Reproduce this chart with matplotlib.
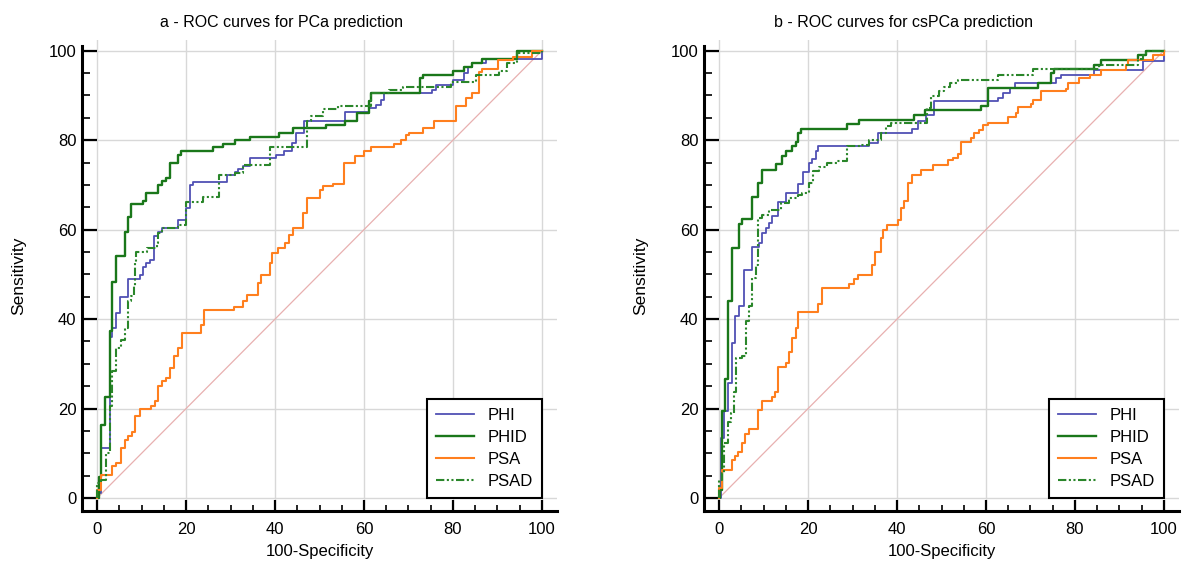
import matplotlib
matplotlib.use('Agg')
import matplotlib.pyplot as plt
from matplotlib.ticker import MultipleLocator

plt.rcParams['font.family'] = ['Liberation Sans', 'DejaVu Sans']

# ---- panel a: PCa prediction (100-specificity, sensitivity at each step) ----
a_phid_x = [0, 0.4, 0.9, 1.7, 2.8, 3.4, 4.3, 6.2, 6.9, 7.7, 10.3, 11.1, 13.6, 14.6, 15.5,
            16.3, 18.1, 18.9, 26.0, 28.4, 31.0, 34.4, 41.0, 44.0, 51.5, 55.8, 58.4,
            61.2, 61.6, 72.5, 73.2, 80.0, 82.5, 84.4, 86.6, 94.5, 100]
a_phid_y = [0, 4.8, 16.4, 22.5, 37.3, 48.3, 54.2, 59.5, 62.8, 65.7, 66.3, 68.2, 70.0, 70.8,
            71.5, 74.9, 76.8, 77.5, 78.5, 79.2, 80.1, 80.8, 81.6, 82.7, 83.5, 84.4, 86.1,
            88.8, 90.5, 93.9, 94.6, 95.4, 96.3, 97.2, 98.1, 99.9, 100]

a_phi_x = [0, 0.4, 0.9, 2.8, 3.4, 4.3, 5.2, 6.9, 9.6, 10.3, 11.1, 12.0, 12.8, 13.8, 14.6,
           18.1, 20.0, 20.8, 21.5, 29.1, 31.0, 31.7, 32.9, 34.4, 40.3, 42.0, 43.9, 44.7,
           46.5, 55.8, 61.2, 62.7, 63.8, 64.6, 75.4, 76.2, 80.0, 82.5, 83.3, 84.4, 87.4, 100]
a_phi_y = [0, 1.1, 11.2, 36.1, 38.0, 41.4, 44.9, 49.0, 49.9, 51.6, 52.5, 53.3, 58.5, 59.4,
           60.4, 62.1, 64.8, 70.0, 70.6, 72.3, 73.0, 73.5, 74.3, 76.0, 76.6, 77.5, 79.4,
           81.6, 84.4, 86.2, 87.2, 87.9, 89.0, 90.5, 91.3, 92.4, 93.5, 95.0, 96.3, 97.2,
           98.1, 100]

a_psa_x = [0, 0.9, 3.4, 4.3, 5.4, 6.2, 6.9, 7.8, 8.6, 9.6, 12.1, 13.1, 13.8, 14.6, 15.5,
           16.3, 17.2, 18.1, 19.0, 23.3, 24.1, 30.8, 32.9, 33.6, 36.2, 36.9, 38.8, 39.4,
           40.7, 42.2, 43.2, 44.1, 46.3, 47.1, 50.0, 50.8, 53.1, 55.6, 57.9, 60.1, 61.6,
           66.8, 68.3, 69.5, 70.2, 73.2, 75.8, 80.7, 82.9, 84.4, 85.9, 86.6, 90.2, 93.4,
           97.8, 100]
a_psa_y = [1.9, 5.2, 7.1, 7.8, 11.2, 13.0, 13.9, 14.7, 18.3, 20.0, 20.6, 21.6, 25.0, 26.1,
           26.8, 29.1, 31.7, 33.5, 37.0, 38.7, 42.1, 42.8, 44.0, 45.5, 48.1, 49.9, 52.5,
           54.8, 55.9, 57.0, 58.9, 60.4, 63.7, 67.1, 68.9, 69.7, 70.3, 74.9, 76.5, 77.5,
           78.5, 79.2, 80.1, 81.2, 81.7, 82.7, 84.4, 87.7, 89.4, 90.5, 95.2, 95.9, 98.0,
           98.7, 99.9, 100]

a_psad_x = [0, 0.9, 1.9, 2.8, 3.4, 4.3, 5.4, 6.2, 6.9, 7.6, 8.2, 8.6, 8.8, 11.2, 13.4,
            13.8, 14.6, 18.1, 20.0, 23.9, 27.3, 31.0, 32.9, 38.8, 47.2, 48.2, 50.8, 54.2,
            61.6, 65.7, 68.7, 79.5, 85.1, 90.4, 92.2, 94.5, 100]
a_psad_y = [3.4, 4.1, 10.1, 20.5, 28.3, 33.5, 35.4, 38.0, 44.0, 45.1, 47.3, 52.5, 55.1,
            55.9, 57.0, 59.3, 60.4, 61.1, 66.2, 67.2, 72.3, 72.7, 74.5, 78.5, 84.2, 85.3,
            87.0, 87.7, 90.5, 91.3, 91.9, 92.9, 94.6, 95.4, 97.2, 99.5, 100]

# ---- panel b: csPCa prediction ----
b_phid_x = [0, 0.2, 0.6, 1.3, 2.1, 2.8, 4.5, 5.1, 7.5, 8.8, 9.6, 12.7, 14.1, 15.1, 16.3,
            17.2, 17.8, 18.4, 28.8, 31.5, 43.8, 46.4, 58.9, 60.4, 71.6, 74.6, 75.4, 84.4,
            85.9, 94.1, 96.0, 100]
b_phid_y = [0, 1.9, 19.5, 26.6, 44.0, 56.0, 61.3, 62.4, 67.3, 70.4, 73.4, 74.7, 76.5,
            77.5, 78.6, 79.7, 81.6, 82.6, 83.6, 84.6, 85.7, 86.8, 87.6, 91.7, 92.8, 95.0,
            95.9, 96.9, 98.0, 99.1, 99.9, 100]

b_phi_x = [0, 0.4, 1.1, 2.1, 2.8, 3.6, 4.5, 5.6, 7.5, 9.0, 9.7, 10.5, 11.2, 11.8, 13.3,
           15.1, 17.8, 18.9, 20.1, 20.8, 21.7, 22.3, 33.6, 35.8, 43.4, 44.8, 46.5, 48.4,
           62.7, 63.8, 65.3, 66.6, 75.8, 76.9, 84.4, 95.3, 100]
b_phi_y = [0, 13.4, 19.5, 25.7, 34.6, 40.6, 43.0, 51.0, 56.1, 57.0, 59.2, 60.4, 61.5,
           63.0, 66.1, 68.3, 70.3, 73.0, 74.9, 75.8, 77.5, 78.6, 79.4, 81.6, 82.5, 84.4,
           85.7, 88.7, 89.4, 90.5, 91.7, 92.8, 93.9, 94.6, 95.8, 97.6, 100]

b_psa_x = [0, 0.6, 2.8, 3.6, 4.3, 5.1, 5.8, 6.7, 8.8, 9.6, 11.8, 12.6, 13.3, 15.1, 15.7,
           16.3, 17.2, 17.8, 22.3, 23.2, 29.1, 30.3, 31.3, 34.3, 35.1, 36.3, 36.9, 37.8,
           40.3, 41.0, 41.6, 42.5, 43.4, 45.3, 48.0, 51.4, 52.5, 53.6, 54.4, 56.6, 57.4,
           58.5, 59.3, 60.4, 64.9, 66.8, 67.1, 70.1, 70.5, 72.4, 78.0, 78.4, 81.0, 83.3,
           85.9, 91.5, 91.9, 97.5, 100]
b_psa_y = [2.2, 6.2, 8.4, 9.5, 10.2, 12.4, 14.4, 15.4, 19.6, 21.6, 22.6, 23.8, 29.4,
           30.2, 32.6, 35.8, 38.0, 41.7, 43.4, 46.9, 47.9, 49.0, 49.9, 52.2, 55.1, 58.1,
           60.0, 61.1, 62.2, 64.8, 66.3, 70.4, 72.3, 73.4, 74.5, 75.6, 76.0, 77.0, 79.5,
           80.5, 81.6, 82.3, 83.5, 83.8, 85.2, 86.1, 87.4, 88.2, 89.0, 90.9, 91.4, 92.8,
           93.9, 94.6, 95.8, 96.9, 98.0, 99.1, 100]

b_psad_x = [0, 0.6, 1.1, 1.9, 2.6, 3.4, 3.7, 5.2, 6.0, 6.7, 7.5, 8.2, 8.8, 9.6, 11.2,
            13.9, 15.6, 17.8, 18.7, 20.2, 21.0, 22.5, 24.3, 26.6, 28.8, 31.8, 33.7, 36.3,
            37.5, 38.6, 46.8, 47.7, 49.4, 50.6, 51.8, 53.8, 62.6, 70.5, 85.5, 94.1, 95.3,
            96.0, 100]
b_psad_y = [4.1, 5.6, 12.3, 17.1, 19.0, 23.6, 31.3, 31.7, 39.5, 43.0, 49.2, 52.2, 62.6,
            63.3, 64.5, 65.9, 67.1, 67.8, 68.3, 70.4, 73.2, 74.1, 74.9, 75.4, 78.6, 79.0,
            80.1, 81.6, 83.1, 83.8, 87.2, 89.8, 90.9, 92.0, 92.8, 93.5, 94.6, 95.9, 96.9,
            98.1, 99.1, 99.9, 100]

labels = ['PHI', 'PHID', 'PSA', 'PSAD']
colors = ['#5050b4', '#1a771a', '#ff7f1e', '#2a862a']
widths = [1.3, 1.7, 1.5, 1.5]
styles = ['-', '-', '-', (0, (4, 1.2, 1, 1.2, 1, 1.2))]

panels = [
    ('a - ROC curves for PCa prediction',
     [(a_phi_x, a_phi_y), (a_phid_x, a_phid_y), (a_psa_x, a_psa_y), (a_psad_x, a_psad_y)]),
    ('b - ROC curves for csPCa prediction',
     [(b_phi_x, b_phi_y), (b_phid_x, b_phid_y), (b_psa_x, b_psa_y), (b_psad_x, b_psad_y)]),
]

fig = plt.figure(figsize=(11.82, 5.68), dpi=100)
lefts = [82/1182, 704/1182]
w = 475/1182
bottom = 1 - 511/568
h = (511 - 40)/568

for left, (title, curves) in zip(lefts, panels):
    ax = fig.add_axes([left, bottom, w, h])
    ax.plot([0, 100], [0, 100], color='#e8b0b0', lw=0.9, zorder=1)
    for (xs, ys), lab, c, lw, ls in zip(curves, labels, colors, widths, styles):
        ax.step([0] + xs, [0] + ys, where='post', color=c, lw=lw, ls=ls, label=lab, zorder=3)
    ax.set_xlim(-3.4, 103.4)
    ax.set_ylim(-2.9, 102.4)
    ax.spines['top'].set_visible(False)
    ax.spines['right'].set_visible(False)
    ax.spines['left'].set_linewidth(2.2)
    ax.spines['bottom'].set_linewidth(2.2)
    ax.spines['left'].set_bounds(-2.9, 101.1)
    ax.xaxis.set_minor_locator(MultipleLocator(5))
    ax.yaxis.set_minor_locator(MultipleLocator(5))
    ax.set_xticks([0, 20, 40, 60, 80, 100])
    ax.set_yticks([0, 20, 40, 60, 80, 100])
    ax.tick_params(axis='y', which='major', direction='in', length=10.8, width=1.6,
                   labelsize=12, pad=4)
    ax.tick_params(axis='y', which='minor', direction='in', length=5.8, width=1.2)
    ax.tick_params(axis='x', which='major', direction='in', length=8, width=1.6,
                   labelsize=12, pad=8)
    ax.tick_params(axis='x', which='minor', direction='in', length=4.3, width=1.2)
    ax.grid(True, which='major', color='#d8d8d8', lw=1.0, zorder=0)
    ax.set_axisbelow(True)
    ax.set_title(title, fontsize=11.5, pad=9, x=0.42)
    ax.set_xlabel('100-Specificity', fontsize=12, labelpad=5)
    ax.set_ylabel('Sensitivity', fontsize=12.5, labelpad=16)
    leg = ax.legend(loc='lower right', bbox_to_anchor=(100, 0),
                    bbox_transform=ax.transData, fontsize=12, fancybox=False,
                    framealpha=1, borderaxespad=0, handlelength=2.3,
                    labelspacing=0.42, borderpad=0.55)
    leg.get_frame().set_edgecolor('black')
    leg.get_frame().set_linewidth(1.5)

fig.savefig('out.png', dpi=100)
